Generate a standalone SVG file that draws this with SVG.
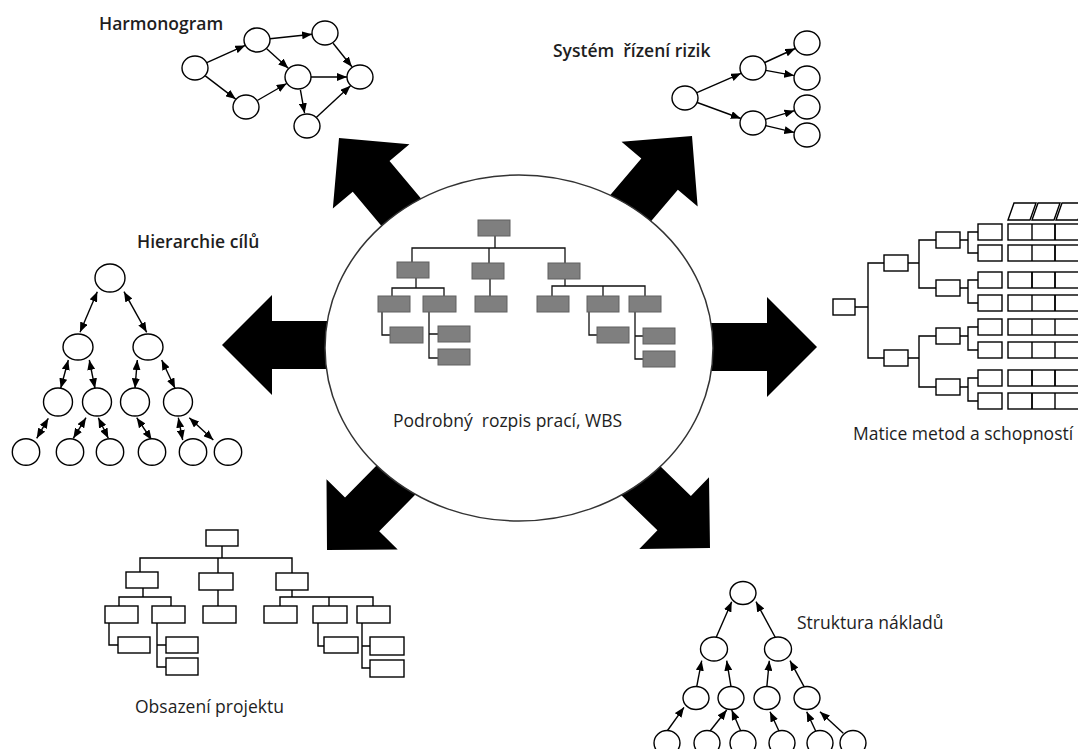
<svg xmlns="http://www.w3.org/2000/svg" width="1078" height="749" viewBox="0 0 1078 749">
  <style>
    .ln { stroke: #000; stroke-width: 1.4; fill: none; }
    .ar { stroke: #000; stroke-width: 1.4; fill: none; marker-end: url(#ah); }
    .ar2 { stroke: #000; stroke-width: 1.4; fill: none; marker-start: url(#ah); marker-end: url(#ah); }
    .nd { fill: #fff; stroke: #000; stroke-width: 1.4; }
    .bx { fill: #fff; stroke: #000; stroke-width: 1.4; }
    .gb { fill: #7f7f7f; stroke: #606060; stroke-width: 1; }
    .gl { stroke: #111; stroke-width: 1.3; fill: none; }
    .lbl { font-family: "Open Sans", "Liberation Sans", sans-serif; font-size: 17.5px; fill: #1e1e1e; white-space: pre; }
    .b { font-weight: 600; }
    .big { fill: #000; }
  </style>
  <defs>
    <marker id="ah" viewBox="0 0 10 8" refX="10" refY="4" markerWidth="10" markerHeight="8" markerUnits="userSpaceOnUse" orient="auto-start-reverse">
      <path d="M0,0L10,4L0,8z" fill="#000"/>
    </marker>
    <!-- fat block arrow, tip at origin pointing along +x -->
    <polygon id="fat" points="0,0 -50,-50 -50,-24 -150,-24 -150,24 -50,24 -50,50"/>
  </defs>

  <rect width="1078" height="749" fill="#fff"/>

  <!-- block arrows radiating from the WBS -->
  <g id="connectors" class="big">
    <use href="#fat" transform="translate(222,345) rotate(180)"/>
    <use href="#fat" transform="translate(817,347)"/>
    <use href="#fat" transform="translate(339,138) rotate(-130)"/>
    <use href="#fat" transform="translate(692,136) rotate(-49.6)"/>
    <use href="#fat" transform="translate(327,550) rotate(134.6)"/>
    <use href="#fat" transform="translate(710,548) rotate(44.2)"/>
  </g>

  <!-- central WBS -->
  <g id="wbs">
    <ellipse cx="519" cy="348" rx="194" ry="173" fill="#fff" stroke="#333" stroke-width="1.5"/>
    <g class="gl">
      <path d="M495,236V248M412,262V248H565V263M489,248V263"/>
      <path d="M416,278V288M392,296V288H444V296M490,279V296"/>
      <path d="M565,279V286M552,296V286H645V296M603,286V296"/>
      <path d="M382,312V335H390"/>
      <path d="M429,312V358H438M429,334H438"/>
      <path d="M589,312V335H597"/>
      <path d="M635,312V359H643M635,336H643"/>
    </g>
    <g class="gb">
      <rect x="478" y="220" width="32" height="16"/>
      <rect x="397" y="262" width="32" height="16"/>
      <rect x="472" y="263" width="32" height="16"/>
      <rect x="548" y="263" width="32" height="16"/>
      <rect x="378" y="296" width="32" height="16"/>
      <rect x="423" y="296" width="33" height="16"/>
      <rect x="475" y="296" width="32" height="16"/>
      <rect x="537" y="296" width="32" height="16"/>
      <rect x="587" y="296" width="32" height="16"/>
      <rect x="629" y="296" width="32" height="16"/>
      <rect x="390" y="327" width="33" height="16"/>
      <rect x="438" y="326" width="32" height="16"/>
      <rect x="438" y="349" width="32" height="16"/>
      <rect x="597" y="327" width="32" height="16"/>
      <rect x="643" y="328" width="32" height="16"/>
      <rect x="643" y="351" width="32" height="16"/>
    </g>
    <text class="lbl" x="393" y="427" xml:space="preserve">Podrobný  rozpis prací, WBS</text>
  </g>

  <!-- Harmonogram: network schedule -->
  <g id="harmonogram">
    <text class="lbl b" x="99" y="30">Harmonogram</text>
    <g>
      <line class="ar" x1="206.8" y1="62.6" x2="245.2" y2="45.4"/>
      <line class="ar" x1="205.3" y1="75.9" x2="235.7" y2="99.1"/>
      <line class="ar" x1="269.9" y1="38.7" x2="312.1" y2="34.3"/>
      <line class="ar" x1="266.7" y1="48.7" x2="288.3" y2="68.3"/>
      <line class="ar" x1="333.1" y1="43.2" x2="351.9" y2="66.8"/>
      <line class="ar" x1="311" y1="77" x2="347" y2="77"/>
      <line class="ar" x1="257.3" y1="100.5" x2="286.7" y2="83.5"/>
      <line class="ar" x1="300.4" y1="89.8" x2="304.6" y2="113.2"/>
      <line class="ar" x1="316.5" y1="117.2" x2="350.5" y2="85.8"/>
    </g>
    <g class="nd">
      <ellipse cx="195" cy="68" rx="13" ry="12"/>
      <ellipse cx="257" cy="40" rx="13" ry="12"/>
      <ellipse cx="325" cy="33" rx="13" ry="12"/>
      <ellipse cx="298" cy="77" rx="13" ry="12"/>
      <ellipse cx="360" cy="77" rx="13" ry="12"/>
      <ellipse cx="246" cy="107" rx="13" ry="12"/>
      <ellipse cx="307" cy="126" rx="13" ry="12"/>
    </g>
  </g>

  <!-- Risk management tree -->
  <g id="rizika">
    <text class="lbl b" x="553" y="57" xml:space="preserve">Systém  řízení rizik</text>
    <g>
      <line class="ar" x1="696.9" y1="92.7" x2="741.1" y2="73.3"/>
      <line class="ar" x1="697.2" y1="102.5" x2="740.8" y2="118.5"/>
      <line class="ar" x1="764.8" y1="62.5" x2="795.2" y2="48.5"/>
      <line class="ar" x1="765.8" y1="70.4" x2="794.2" y2="75.6"/>
      <line class="ar" x1="765.5" y1="119.3" x2="794.5" y2="110.7"/>
      <line class="ar" x1="765.7" y1="125.6" x2="794.3" y2="132.4"/>
    </g>
    <g class="nd">
      <ellipse cx="685" cy="98" rx="13" ry="12"/>
      <ellipse cx="753" cy="68" rx="13" ry="12"/>
      <ellipse cx="753" cy="123" rx="13" ry="12"/>
      <ellipse cx="807" cy="43" rx="13" ry="12"/>
      <ellipse cx="807" cy="78" rx="13" ry="12"/>
      <ellipse cx="807" cy="107" rx="13" ry="12"/>
      <ellipse cx="807" cy="135" rx="13" ry="12"/>
    </g>
  </g>

  <!-- Goal hierarchy -->
  <g id="hierarchie">
    <text class="lbl b" x="137" y="248">Hierarchie cílů</text>
    <g>
      <line class="ar2" x1="97.3" y1="291.7" x2="80" y2="332.3"/>
      <line class="ar2" x1="124" y1="291.7" x2="146.7" y2="332.3"/>
      <line class="ar2" x1="68.3" y1="360" x2="60.7" y2="388.3"/>
      <line class="ar2" x1="89.3" y1="360" x2="95" y2="388.3"/>
      <line class="ar2" x1="137.3" y1="360" x2="135" y2="388.3"/>
      <line class="ar2" x1="161.7" y1="360" x2="175" y2="388.3"/>
      <line class="ar2" x1="48.3" y1="418.3" x2="36.7" y2="438.3"/>
      <line class="ar2" x1="86" y1="417.7" x2="73.3" y2="438.3"/>
      <line class="ar2" x1="98.3" y1="417.7" x2="108.3" y2="438.3"/>
      <line class="ar2" x1="136.7" y1="417.7" x2="151.7" y2="440"/>
      <line class="ar2" x1="178.3" y1="417.7" x2="182.7" y2="440"/>
      <line class="ar2" x1="189.3" y1="417.7" x2="213.3" y2="440"/>
    </g>
    <g class="nd">
      <ellipse cx="110" cy="278" rx="15" ry="14"/>
      <ellipse cx="78" cy="347" rx="15" ry="13"/>
      <ellipse cx="148" cy="347" rx="15" ry="13"/>
      <ellipse cx="58" cy="402" rx="14.5" ry="14"/>
      <ellipse cx="97" cy="402" rx="14.5" ry="14"/>
      <ellipse cx="135" cy="402" rx="14.5" ry="14"/>
      <ellipse cx="178" cy="402" rx="14.5" ry="14"/>
      <ellipse cx="26" cy="452" rx="13.7" ry="13.3"/>
      <ellipse cx="70" cy="452" rx="13.7" ry="13.3"/>
      <ellipse cx="110" cy="452" rx="13.7" ry="13.3"/>
      <ellipse cx="152" cy="452" rx="13.7" ry="13.3"/>
      <ellipse cx="193" cy="452" rx="13.7" ry="13.3"/>
      <ellipse cx="228" cy="452" rx="13.7" ry="13.3"/>
    </g>
  </g>

  <!-- Methods and skills matrix -->
  <g id="matice">
    <text class="lbl" x="853" y="440">Matice metod a schopností</text>
    <g class="ln">
      <path d="M855,307H868M884,263H868V358H884"/>
      <path d="M908,263H919M936,240H919V288H936"/>
      <path d="M908,358H919M936,336H919V387H936"/>
      <path d="M960,240H968M978,232H968V253H978"/>
      <path d="M960,288H968M978,280H968V303H978"/>
      <path d="M960,336H968M978,327H968V350H978"/>
      <path d="M960,387H968M978,378H968V401H978"/>
    </g>
    <g class="bx">
      <rect x="833" y="299" width="22" height="16"/>
      <rect x="884" y="255" width="24" height="16"/>
      <rect x="884" y="350" width="24" height="16"/>
      <rect x="936" y="232" width="24" height="16"/>
      <rect x="936" y="280" width="24" height="16"/>
      <rect x="936" y="328" width="24" height="16"/>
      <rect x="936" y="379" width="24" height="16"/>
      <rect x="978" y="224" width="24" height="16"/>
      <rect x="978" y="245" width="24" height="16"/>
      <rect x="978" y="272" width="24" height="16"/>
      <rect x="978" y="295" width="24" height="16"/>
      <rect x="978" y="319" width="24" height="16"/>
      <rect x="978" y="342" width="24" height="16"/>
      <rect x="978" y="370" width="24" height="16"/>
      <rect x="978" y="393" width="24" height="16"/>
      <!-- matrix rows -->
      <rect x="1008" y="224" width="74" height="16"/>
      <rect x="1008" y="245" width="74" height="16"/>
      <rect x="1008" y="272" width="74" height="16"/>
      <rect x="1008" y="295" width="74" height="16"/>
      <rect x="1008" y="319" width="74" height="16"/>
      <rect x="1008" y="342" width="74" height="16"/>
      <rect x="1008" y="370" width="74" height="16"/>
      <rect x="1008" y="393" width="74" height="16"/>
      <!-- column headers -->
      <polygon points="1008,220 1014,203 1036,203 1030,220"/>
      <polygon points="1032,220 1038,203 1060,203 1054,220"/>
      <polygon points="1056,220 1062,203 1084,203 1078,220"/>
    </g>
    <g class="ln">
      <path d="M1032,224V240M1055,224V240M1032,245V261M1055,245V261M1032,272V288M1055,272V288M1032,295V311M1055,295V311"/>
      <path d="M1032,319V335M1055,319V335M1032,342V358M1055,342V358M1032,370V386M1055,370V386M1032,393V409M1055,393V409"/>
    </g>
    <g class="ln" stroke-width="2.4">
      <path d="M1055,224V240M1055,245V261M1032,272V288M1055,272V288M1055,295V311M1032,370V386M1055,370V386M1032,393V409"/>
    </g>
  </g>

  <!-- Project staffing -->
  <g id="obsazeni">
    <text class="lbl" x="135" y="713">Obsazení projektu</text>
    <g class="ln">
      <path d="M222,546V558M140,572V558H292V573M218,558V573"/>
      <path d="M143,588V597M119,606V597H171V606M218,590V606"/>
      <path d="M292,590V597M280,606V597H373V606M329,597V606"/>
      <path d="M109,623V645H118"/>
      <path d="M157,623V667H166M157,645H166"/>
      <path d="M318,623V646H324"/>
      <path d="M362,623V668H370M362,646H370"/>
    </g>
    <g class="bx">
      <rect x="206" y="530" width="32" height="16"/>
      <rect x="126" y="572" width="32" height="16"/>
      <rect x="199" y="573" width="34" height="17"/>
      <rect x="276" y="573" width="32" height="17"/>
      <rect x="105" y="606" width="33" height="17"/>
      <rect x="152" y="606" width="33" height="17"/>
      <rect x="203" y="606" width="33" height="17"/>
      <rect x="264" y="606" width="33" height="17"/>
      <rect x="313" y="606" width="34" height="17"/>
      <rect x="357" y="606" width="33" height="17"/>
      <rect x="118" y="637" width="32" height="16"/>
      <rect x="166" y="637" width="32" height="16"/>
      <rect x="166" y="658" width="32" height="17"/>
      <rect x="324" y="637" width="34" height="16"/>
      <rect x="370" y="637" width="34" height="18"/>
      <rect x="370" y="660" width="34" height="17"/>
    </g>
  </g>

  <!-- Cost breakdown structure -->
  <g id="naklady">
    <text class="lbl" x="797" y="629">Struktura nákladů</text>
    <g>
      <line class="ar" x1="715" y1="640" x2="731.7" y2="601.7"/>
      <line class="ar" x1="776.7" y1="640" x2="756" y2="601.7"/>
      <line class="ar" x1="696.7" y1="686.7" x2="701.7" y2="660.7"/>
      <line class="ar" x1="731" y1="686.7" x2="726.7" y2="660.7"/>
      <line class="ar" x1="766.7" y1="688.3" x2="769.3" y2="660.7"/>
      <line class="ar" x1="805" y1="688.3" x2="790" y2="660.7"/>
      <line class="ar" x1="665" y1="734" x2="684" y2="707.3"/>
      <line class="ar" x1="708.3" y1="733.3" x2="726.7" y2="710"/>
      <line class="ar" x1="741.7" y1="733.3" x2="731.7" y2="710"/>
      <line class="ar" x1="780" y1="733.3" x2="770" y2="711.7"/>
      <line class="ar" x1="816.7" y1="733.3" x2="806.7" y2="711.7"/>
      <line class="ar" x1="843.3" y1="733.3" x2="820" y2="711.7"/>
    </g>
    <g class="nd">
      <ellipse cx="743" cy="593" rx="13" ry="11.5"/>
      <ellipse cx="714" cy="649" rx="13.5" ry="12"/>
      <ellipse cx="778" cy="649" rx="13.5" ry="12"/>
      <ellipse cx="696" cy="698" rx="13" ry="11.5"/>
      <ellipse cx="731" cy="698" rx="13" ry="11.5"/>
      <ellipse cx="767" cy="698" rx="13" ry="11.5"/>
      <ellipse cx="807" cy="698" rx="13" ry="11.5"/>
      <ellipse cx="667" cy="743" rx="13" ry="12.5"/>
      <ellipse cx="707" cy="743" rx="13" ry="12.5"/>
      <ellipse cx="743" cy="743" rx="13" ry="12.5"/>
      <ellipse cx="782" cy="743" rx="13" ry="12.5"/>
      <ellipse cx="820" cy="743" rx="13" ry="12.5"/>
      <ellipse cx="853" cy="743" rx="13" ry="12.5"/>
    </g>
  </g>
</svg>
